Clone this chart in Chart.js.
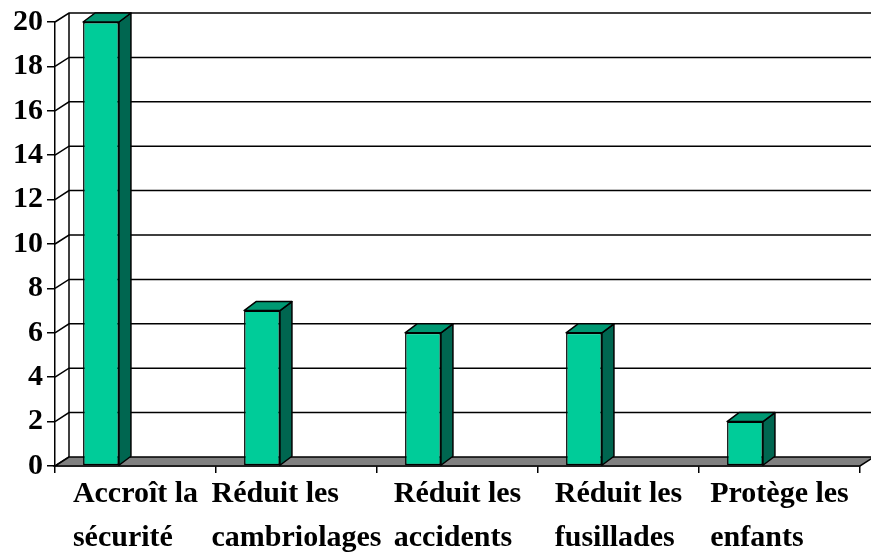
<!DOCTYPE html>
<html>
<head>
<meta charset="utf-8">
<script src="https://cdn.jsdelivr.net/npm/chart.js@4/dist/chart.umd.min.js"></script>
<style>
  html, body { margin: 0; padding: 0; background: #fff; }
  #wrap { width: 871px; height: 555px; }
</style>
</head>
<body>
<div id="wrap"><canvas id="avisChart" width="871" height="555"></canvas></div>
<script>
// données
const categories = [
    ['Accroît la', 'sécurité'],
    ['Réduit les', 'cambriolages'],
    ['Réduit les', 'accidents'],
    ['Réduit les', 'fusillades'],
    ['Protège les', 'enfants']
];
const values = [20, 7, 6, 6, 2];
const emptySlot = [null, null, null, null, null];
const yTicks = [0, 2, 4, 6, 8, 10, 12, 14, 16, 18, 20];

// décalage de la perspective (mur du fond) et profondeur des barres
const wallDx = 14, wallDy = -9;
const barDx = 12, barDy = -9;
const labelFont = 'bold 30px "Liberation Serif", "Times New Roman", serif';

// mur du fond, quadrillage et sol gris
const wallPlugin = {
    id: 'wall',
    beforeDatasetsDraw(chart) {
        const ctx = chart.ctx;
        const area = chart.chartArea;
        const y = chart.scales.y;
        ctx.save();
        ctx.strokeStyle = '#000';
        ctx.lineWidth = 1.5;
        yTicks.forEach(function(v) {
            const py = y.getPixelForValue(v);
            ctx.beginPath();
            ctx.moveTo(area.left, py);
            ctx.lineTo(area.left + wallDx, py + wallDy);
            if (v !== 0) ctx.lineTo(area.right + wallDx, py + wallDy);
            ctx.stroke();
        });
        // mur vertical du fond
        ctx.beginPath();
        ctx.moveTo(area.left + wallDx, area.bottom + wallDy);
        ctx.lineTo(area.left + wallDx, area.top + wallDy);
        ctx.stroke();
        // sol
        ctx.beginPath();
        ctx.moveTo(area.left, area.bottom);
        ctx.lineTo(area.right, area.bottom);
        ctx.lineTo(area.right + wallDx, area.bottom + wallDy);
        ctx.lineTo(area.left + wallDx, area.bottom + wallDy);
        ctx.closePath();
        ctx.fillStyle = '#808080';
        ctx.fill();
        ctx.stroke();
        ctx.restore();
    },
    afterDatasetsDraw(chart) {
        const ctx = chart.ctx;
        const meta = chart.getDatasetMeta(0);
        ctx.save();
        ctx.strokeStyle = '#000';
        ctx.lineWidth = 1.5;
        ctx.lineJoin = 'round';
        meta.data.forEach(function(bar) {
            const l = bar.x - bar.width / 2;
            const r = bar.x + bar.width / 2;
            const t = bar.y;
            const b = bar.base;
            // face latérale
            ctx.beginPath();
            ctx.moveTo(r, t);
            ctx.lineTo(r + barDx, t + barDy);
            ctx.lineTo(r + barDx, b + barDy);
            ctx.lineTo(r, b);
            ctx.closePath();
            ctx.fillStyle = '#006650';
            ctx.fill();
            ctx.stroke();
            // dessus
            ctx.beginPath();
            ctx.moveTo(l, t);
            ctx.lineTo(l + barDx, t + barDy);
            ctx.lineTo(r + barDx, t + barDy);
            ctx.lineTo(r, t);
            ctx.closePath();
            ctx.fillStyle = '#009973';
            ctx.fill();
            ctx.stroke();
        });
        ctx.restore();
    },
    // étiquettes de catégories : bloc centré, lignes alignées à gauche
    afterDraw(chart) {
        const ctx = chart.ctx;
        const x = chart.scales.x;
        const area = chart.chartArea;
        ctx.save();
        ctx.font = labelFont;
        ctx.fillStyle = '#000';
        ctx.textAlign = 'left';
        ctx.textBaseline = 'alphabetic';
        categories.forEach(function(lines, i) {
            const cx = x.getPixelForValue(i);
            const w = Math.max.apply(null, lines.map(function(s) { return ctx.measureText(s).width; }));
            lines.forEach(function(s, k) {
                ctx.fillText(s, cx - w / 2, area.bottom + 36 + k * 44);
            });
        });
        ctx.restore();
    }
};

const ctx = document.getElementById('avisChart').getContext('2d');
new Chart(ctx, {
    type: 'bar',
    data: {
        labels: categories,
        datasets: [{
            data: values,
            backgroundColor: '#00CC99',
            borderColor: '#000',
            borderWidth: 1.5,
            borderSkipped: false,
            categoryPercentage: 0.857,
            barPercentage: 0.52
        }, {
            data: emptySlot,
            categoryPercentage: 0.857,
            barPercentage: 0.52
        }]
    },
    options: {
        responsive: false,
        animation: false,
        layout: { padding: { top: 21, right: 11, left: 0, bottom: 0 } },
        plugins: {
            legend: { display: false },
            tooltip: { enabled: false }
        },
        scales: {
            x: {
                grid: {
                    offset: true,
                    drawOnChartArea: false,
                    drawTicks: true,
                    tickLength: 7,
                    color: '#000',
                    lineWidth: 1.5
                },
                border: { color: '#000', width: 1.5 },
                ticks: { display: false },
                afterFit(scale) { scale.height = 89; }
            },
            y: {
                min: 0,
                max: 20,
                afterBuildTicks(scale) {
                    scale.ticks = yTicks.map(function(v) { return { value: v }; });
                },
                grid: {
                    drawOnChartArea: false,
                    drawTicks: true,
                    tickLength: 8,
                    color: '#000',
                    lineWidth: 1.5
                },
                border: { color: '#000', width: 1.5 },
                ticks: {
                    color: '#000',
                    padding: 4,
                    font: { family: 'Liberation Serif', size: 30, weight: 'bold' }
                },
                afterFit(scale) { scale.width = 55; }
            }
        }
    },
    plugins: [wallPlugin]
});
</script>
</body>
</html>
